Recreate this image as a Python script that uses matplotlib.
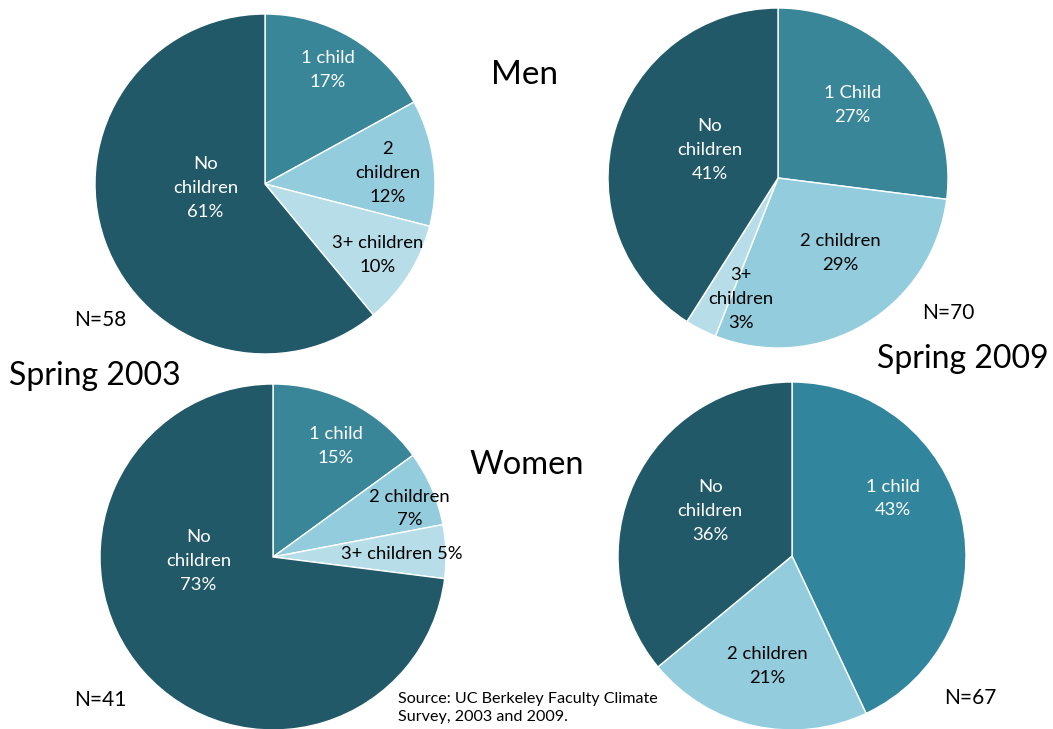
import numpy as np
import matplotlib
matplotlib.use('Agg')
import matplotlib.pyplot as plt

plt.rcParams['font.family'] = ['Lato', 'DejaVu Sans']

# Данные
men_2003_labels = ['1 child', '2\nchildren', '3+ children', 'No\nchildren']
men_2003_values = [17, 12, 10, 61]

men_2009_labels = ['1 Child', '2 children', '3+\nchildren', 'No\nchildren']
men_2009_values = [27, 29, 3, 41]

women_2003_labels = ['1 child', '2 children', '3+ children', 'No\nchildren']
women_2003_values = [15, 7, 5, 73]

women_2009_labels = ['1 child', '2 children', 'No\nchildren']
women_2009_values = [43, 21, 36]

n_values = ['N=58', 'N=70', 'N=41', 'N=67']

# Цвета
c_one = '#3a8699'
c_one_b = '#31869e'
c_two = '#93cddd'
c_three = '#b7dee8'
c_none = '#215968'

W, H = 1053, 729
fig = plt.figure(figsize=(W / 100, H / 100), dpi=100)


def add_pie(cx, cy, r, values, labels, colors, txt_colors, lpos, inline=None):
    ax = fig.add_axes([(cx - r) / W, (H - cy - r) / H, 2 * r / W, 2 * r / H])
    ax.pie(values, colors=colors, startangle=90, counterclock=False,
           wedgeprops=dict(edgecolor='white', linewidth=1.0))
    ax.set_xlim(-1, 1)
    ax.set_ylim(-1, 1)
    ax.set_aspect('equal')
    ax.axis('off')
    # подписи секторов (положение в долях радиуса)
    for i in range(len(values)):
        if inline is not None and inline[i]:
            s = labels[i] + ' ' + str(values[i]) + '%'
        else:
            s = labels[i] + '\n' + str(values[i]) + '%'
        ax.text(lpos[i][0], lpos[i][1], s, ha='center', va='center',
                fontsize=13.3, color=txt_colors[i], linespacing=1.6)
    return ax


# Мужчины 2003
add_pie(265, 184, 170, men_2003_values, men_2003_labels,
        [c_one, c_two, c_three, c_none],
        ['white', 'black', 'black', 'white'],
        [(0.37, 0.67), (0.72, 0.065), (0.665, -0.42), (-0.35, -0.024)])

# Мужчины 2009
add_pie(778, 178, 170, men_2009_values, men_2009_labels,
        [c_one, c_two, c_three, c_none],
        ['white', 'black', 'black', 'white'],
        [(0.44, 0.43), (0.365, -0.44), (-0.22, -0.71), (-0.4, 0.165)])

# Женщины 2003
add_pie(273, 557, 173, women_2003_values, women_2003_labels,
        [c_one, c_two, c_three, c_none],
        ['white', 'black', 'black', 'white'],
        [(0.364, 0.64), (0.79, 0.28), (0.745, 0.02), (-0.43, -0.023)],
        inline=[False, False, True, False])

# Женщины 2009
add_pie(792, 556, 174, women_2009_values, women_2009_labels,
        [c_one_b, c_two, c_none],
        ['white', 'black', 'white'],
        [(0.58, 0.33), (-0.14, -0.63), (-0.47, 0.26)])

# Подписи
fig.text(525 / W, 1 - 75 / H, 'Men', fontsize=24, ha='center', va='center')
fig.text(527 / W, 1 - 465 / H, 'Women', fontsize=23.5, ha='center', va='center')
fig.text(95 / W, 1 - 376 / H, 'Spring 2003', fontsize=23, ha='center', va='center')
fig.text(963 / W, 1 - 359 / H, 'Spring 2009', fontsize=23, ha='center', va='center')

n_pos = [(100, 320), (948, 313), (100, 700), (970, 698)]
for (x, y), s in zip(n_pos, n_values):
    fig.text(x / W, 1 - y / H, s, fontsize=15, ha='center', va='center')

fig.text(398 / W, 1 - 708 / H, 'Source: UC Berkeley Faculty Climate\nSurvey, 2003 and 2009.',
         fontsize=11.6, ha='left', va='center', linespacing=1.4)

plt.savefig('out.png', dpi=100)
